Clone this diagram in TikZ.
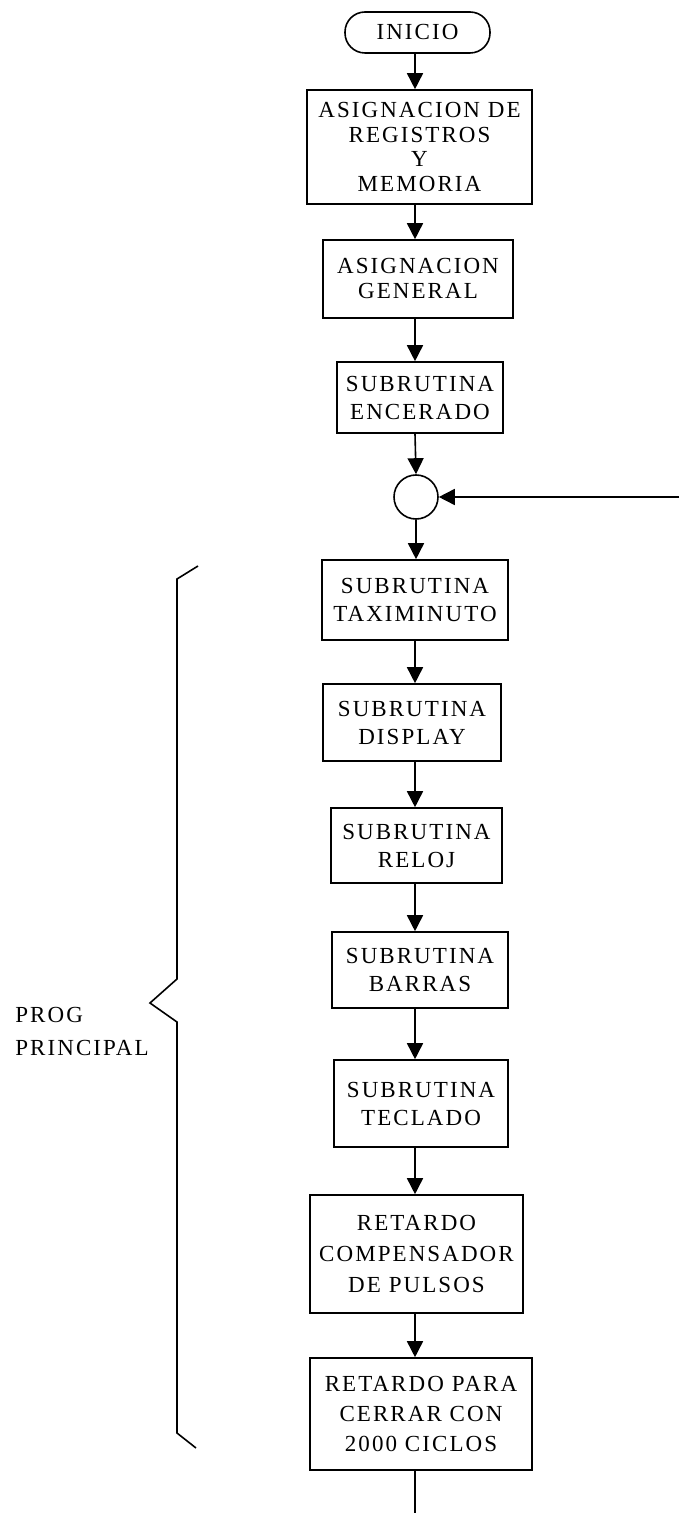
\documentclass[tikz,border=0pt]{standalone}
\usepackage{fontspec}
\setmainfont{Liberation Serif}[LetterSpace=9]
\usetikzlibrary{arrows.meta}
\tikzset{
  lw/.style={line width=0.8pt},
  box/.style={draw, lw, rectangle, inner sep=0pt, align=center,
    font=\fontsize{11.5}{14}\selectfont},
  term/.style={draw, lw, rectangle, rounded corners=10pt, inner sep=0pt, align=center,
    font=\fontsize{11.5}{14}\selectfont},
  joint/.style={draw, lw, circle, inner sep=0pt, minimum size=22pt},
  arr/.style={lw, -{Triangle[width=8pt,length=8pt]}},
  plain/.style={lw},
  lbl/.style={inner sep=0pt, align=left, anchor=west, font=\fontsize{11.5}{16.5}\selectfont}
}
\begin{document}
\begin{tikzpicture}[x=0.5pt, y=-0.5pt]
\useasboundingbox (0,0) rectangle (679,1513);
\node[term, minimum width=72.5pt, minimum height=20.5pt] (n0) at (417.5,32.5) {INICIO};
\node[box, minimum width=112.5pt, minimum height=57pt, font=\fontsize{11.5}{12.2}\selectfont] (n1) at (419.5,147) {ASIGNACION DE\\REGISTROS\\Y\\MEMORIA};
\node[box, minimum width=95pt, minimum height=39pt, font=\fontsize{11.5}{12.5}\selectfont] (n2) at (418,279) {ASIGNACION\\GENERAL};
\node[box, minimum width=83pt, minimum height=35.5pt] (n3) at (420,397.5) {SUBRUTINA\\ENCERADO};
\node[joint] (c) at (416,497) {};
\node[box, minimum width=93pt, minimum height=40pt] (n4) at (415,600) {SUBRUTINA\\TAXIMINUTO};
\node[box, minimum width=89pt, minimum height=38.5pt] (n5) at (412,722.5) {SUBRUTINA\\DISPLAY};
\node[box, minimum width=85.5pt, minimum height=37.5pt] (n6) at (416.5,845.5) {SUBRUTINA\\RELOJ};
\node[box, minimum width=88pt, minimum height=38pt] (n7) at (420,970) {SUBRUTINA\\BARRAS};
\node[box, minimum width=87pt, minimum height=43.5pt] (n8) at (421,1103.5) {SUBRUTINA\\TECLADO};
\node[box, minimum width=106.5pt, minimum height=59pt, font=\fontsize{11.5}{15.5}\selectfont] (n9) at (416.5,1254) {RETARDO\\COMPENSADOR\\DE PULSOS};
\node[box, minimum width=111pt, minimum height=56pt, font=\fontsize{11.5}{15}\selectfont] (n10) at (421,1414) {RETARDO PARA\\CERRAR CON\\2000 CICLOS};
\node[lbl] (lab) at (15,1031) {PROG\\PRINCIPAL};
\coordinate (ax) at (415,0);
\coordinate (fb) at (679,497);
\coordinate (end) at (415,1513);
\draw[arr] (n0.south -| ax) -- (n1.north -| ax);
\draw[arr] (n1.south -| ax) -- (n2.north -| ax);
\draw[arr] (n2.south -| ax) -- (n3.north -| ax);
\draw[arr] (n3.south -| ax) -- (c.north);
\draw[arr] (c.south) -- (n4.north -| c);
\draw[arr] (n4.south -| ax) -- (n5.north -| ax);
\draw[arr] (n5.south -| ax) -- (n6.north -| ax);
\draw[arr] (n6.south -| ax) -- (n7.north -| ax);
\draw[arr] (n7.south -| ax) -- (n8.north -| ax);
\draw[arr] (n8.south -| ax) -- (n9.north -| ax);
\draw[arr] (n9.south -| ax) -- (n10.north -| ax);
\draw[plain] (n10.south -| ax) -- (end);
\draw[arr] (fb) -- (c.east);
\draw[plain] (198,566) -- (177,579) -- (177,979) -- (150,1003) -- (177,1022) -- (177,1433) -- (196,1448);
\end{tikzpicture}
\end{document}
